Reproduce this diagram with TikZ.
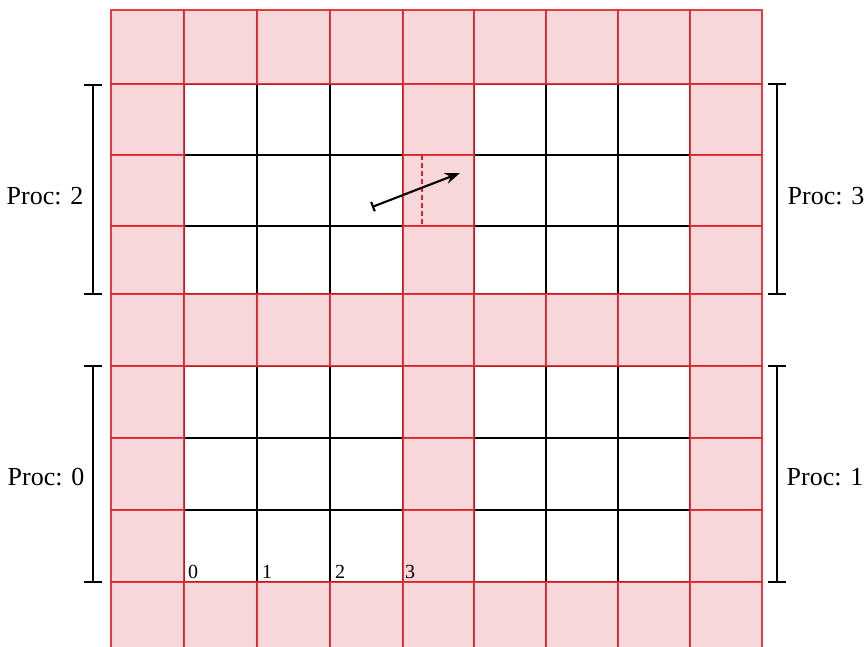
\documentclass[tikz,border=0pt]{standalone}
\usepackage{fontspec}
\setmainfont{Liberation Serif}
\usetikzlibrary{arrows.meta}
\definecolor{cellpink}{RGB}{248,215,218}
\definecolor{cellred}{RGB}{222,32,40}
\tikzset{
  gridline/.style={black, line width=1.7pt},
  ghostcell/.style={fill=cellpink, draw=cellred, draw opacity=0.85, line width=1.9pt},
  bracketline/.style={black, line width=2.3pt},
  proclabel/.style={font=\fontsize{26}{30}\selectfont, inner sep=0pt},
  idxlabel/.style={font=\fontsize{20}{22}\selectfont, inner sep=0pt, anchor=base west},
}
\begin{document}
\begin{tikzpicture}[x=1pt,y=-1pt]
\useasboundingbox (0,0) rectangle (864,646);
\def\colx{{111,184,257,330,403,474,546,618,690,762}}
\def\rowy{{10,84,155,226,294,366,438,510,582,654}}
\begin{scope}
\clip (0,0) rectangle (864,646);
% black interior grid
\foreach \v in {184,257,330,403,474,546,618,690}
  \draw[gridline] (\v,10) -- (\v,654);
\foreach \h in {84,155,226,294,366,438,510,582}
  \draw[gridline] (111,\h) -- (762,\h);
% ghost / boundary cells
\foreach \i in {0,...,8}{
  \foreach \j in {0,...,8}{
    \pgfmathtruncatemacro\pink{(\j==0)||(\j==4)||(\j==8)||(\i==0)||(\i==4)||(\i==8)}
    \ifnum\pink=1
      \pgfmathsetmacro\xa{\colx[\i]}
      \pgfmathsetmacro\xb{\colx[\i+1]}
      \pgfmathsetmacro\ya{\rowy[\j]}
      \pgfmathsetmacro\yb{\rowy[\j+1]}
      \draw[ghostcell] (\xa,\ya) rectangle (\xb,\yb);
    \fi
  }
}
\end{scope}
% dashed interface line
\draw[cellred, line width=1.6pt, dash pattern=on 5pt off 3pt] (422,155) -- (422,226);
% arrow
\coordinate (atail) at (372,207);
\coordinate (ahead) at (460,173);
\draw[black, line width=2.1pt, {Bar[width=10pt]}-{Stealth[length=15pt,width=11pt]}] (atail) -- (ahead);
% brackets
\coordinate (b2t) at (93,85);  \coordinate (b2b) at (93,294);
\coordinate (b0t) at (93,366); \coordinate (b0b) at (93,582);
\coordinate (b3t) at (777,84); \coordinate (b3b) at (777,294);
\coordinate (b1t) at (777,366);\coordinate (b1b) at (777,582);
\foreach \a/\b in {b2t/b2b,b0t/b0b,b3t/b3b,b1t/b1b}{
  \draw[bracketline] (\a) -- (\b);
  \draw[bracketline] ([xshift=-9pt]\a) -- ([xshift=9pt]\a);
  \draw[bracketline] ([xshift=-9pt]\b) -- ([xshift=9pt]\b);
}
% labels
\node[proclabel] (p2) at (45,196) {Proc: 2};
\node[proclabel] (p0) at (46,477) {Proc: 0};
\node[proclabel] (p3) at (826,196) {Proc: 3};
\node[proclabel] (p1) at (825,477) {Proc: 1};
\node[idxlabel] (i0) at (188,578) {0};
\node[idxlabel] (i1) at (262,578) {1};
\node[idxlabel] (i2) at (335,578) {2};
\node[idxlabel] (i3) at (405,578) {3};
\end{tikzpicture}
\end{document}
